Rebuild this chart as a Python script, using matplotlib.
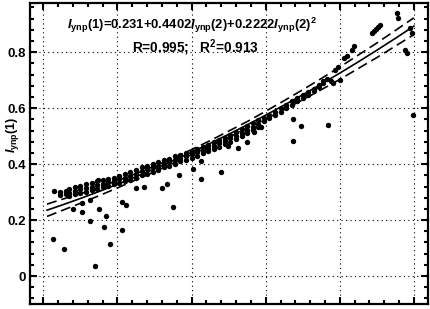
import numpy as np
import matplotlib
matplotlib.use('Agg')
import matplotlib.pyplot as plt
from matplotlib.ticker import MultipleLocator, NullFormatter

plt.rcParams['font.family'] = ['Liberation Sans', 'DejaVu Sans']
plt.rcParams['mathtext.fontset'] = 'custom'
plt.rcParams['mathtext.rm'] = 'Liberation Sans:bold'
plt.rcParams['mathtext.bf'] = 'Liberation Sans:bold'
plt.rcParams['mathtext.it'] = 'Liberation Sans:italic:bold'

# scattered outliers
out_x = [0.025, 0.056, 0.140, 0.181, 0.163, 0.125, 0.170, 0.149, 0.103, 0.079,
         0.212, 0.223, 0.211, 0.029, 0.126, 0.105, 0.250, 0.271, 0.320, 0.333,
         0.366, 0.350, 0.404, 0.425, 0.425, 0.479, 0.498, 0.525, 0.549, 0.568,
         0.587, 0.673, 0.695, 0.768, 0.673, 0.997, 0.954, 0.957, 0.976, 0.981,
         0.995, 0.989, 0.887, 0.892, 0.898, 0.903, 0.908, 0.787, 0.795, 0.811,
         0.819, 0.833, 0.838, 0.800, 0.148]
out_y = [0.131, 0.095, 0.035, 0.115, 0.176, 0.198, 0.213, 0.239, 0.229, 0.238,
         0.263, 0.255, 0.163, 0.305, 0.273, 0.260, 0.314, 0.317, 0.314, 0.329,
         0.361, 0.246, 0.382, 0.346, 0.411, 0.371, 0.464, 0.457, 0.479, 0.514,
         0.532, 0.561, 0.536, 0.539, 0.482, 0.575, 0.939, 0.921, 0.807, 0.796,
         0.868, 0.886, 0.868, 0.875, 0.882, 0.889, 0.896, 0.736, 0.746, 0.779,
         0.786, 0.807, 0.821, 0.700, 0.343]

# dense band of points along the curve
band_x = [0.045, 0.045, 0.060, 0.060, 0.070, 0.070, 0.070, 0.085, 0.085, 0.085,
          0.100, 0.100, 0.100, 0.115, 0.115, 0.115, 0.130, 0.130, 0.130,
          0.145, 0.145, 0.145, 0.160, 0.160, 0.160, 0.175, 0.175, 0.175,
          0.190, 0.190, 0.190, 0.205, 0.205, 0.205, 0.220, 0.220, 0.220,
          0.235, 0.235, 0.235, 0.250, 0.250, 0.250, 0.265, 0.265, 0.265,
          0.280, 0.280, 0.280, 0.295, 0.295, 0.295, 0.310, 0.310, 0.310,
          0.325, 0.325, 0.325, 0.340, 0.340, 0.340, 0.355, 0.355, 0.355,
          0.370, 0.370, 0.370, 0.385, 0.385, 0.385, 0.400, 0.400, 0.400,
          0.415, 0.415, 0.415, 0.430, 0.430, 0.430, 0.445, 0.445, 0.445,
          0.460, 0.460, 0.460, 0.475, 0.475, 0.475, 0.490, 0.490, 0.490,
          0.505, 0.505, 0.505, 0.520, 0.520, 0.520, 0.535, 0.535, 0.535,
          0.550, 0.550, 0.550, 0.565, 0.565, 0.565, 0.580, 0.580, 0.580,
          0.595, 0.595, 0.610, 0.610, 0.625, 0.625, 0.640, 0.640,
          0.655, 0.655, 0.670, 0.670, 0.685, 0.685, 0.700, 0.700,
          0.715, 0.715, 0.730, 0.730, 0.745, 0.745, 0.755, 0.755,
          0.765, 0.775, 0.782]
band_y = [0.300, 0.290, 0.305, 0.292, 0.312, 0.298, 0.285, 0.318, 0.305, 0.293,
          0.322, 0.310, 0.298, 0.328, 0.315, 0.302, 0.333, 0.320, 0.308,
          0.338, 0.326, 0.312, 0.343, 0.330, 0.318, 0.348, 0.335, 0.322,
          0.352, 0.340, 0.328, 0.357, 0.346, 0.334, 0.364, 0.352, 0.340,
          0.372, 0.358, 0.345, 0.380, 0.366, 0.352, 0.388, 0.374, 0.360,
          0.395, 0.382, 0.366, 0.402, 0.388, 0.372, 0.408, 0.395, 0.380,
          0.414, 0.402, 0.388, 0.420, 0.408, 0.395, 0.428, 0.415, 0.402,
          0.434, 0.422, 0.410, 0.440, 0.428, 0.416, 0.447, 0.435, 0.423,
          0.455, 0.443, 0.430, 0.463, 0.450, 0.438, 0.470, 0.458, 0.446,
          0.478, 0.466, 0.454, 0.486, 0.474, 0.462, 0.495, 0.483, 0.471,
          0.503, 0.492, 0.480, 0.514, 0.502, 0.490, 0.525, 0.512, 0.500,
          0.536, 0.522, 0.510, 0.546, 0.533, 0.522, 0.557, 0.545, 0.534,
          0.566, 0.555, 0.576, 0.565, 0.588, 0.576, 0.600, 0.588,
          0.612, 0.600, 0.624, 0.612, 0.636, 0.625, 0.648, 0.637,
          0.658, 0.648, 0.668, 0.660, 0.684, 0.676, 0.698, 0.690,
          0.706, 0.698, 0.690]

# regression curve and its confidence band
fit_x = [0.01, 0.05, 0.10, 0.15, 0.20, 0.25, 0.30, 0.35, 0.40, 0.45, 0.50,
         0.55, 0.60, 0.65, 0.70, 0.75, 0.80, 0.85, 0.90, 0.95, 1.00]
fit_y = [0.2354, 0.2536, 0.2772, 0.3020, 0.3279, 0.3549, 0.3831, 0.4123, 0.4426,
         0.4741, 0.5067, 0.5403, 0.5751, 0.6110, 0.6480, 0.6861, 0.7254, 0.7657,
         0.8072, 0.8497, 0.8934]
upper_y = [0.257, 0.274, 0.294, 0.317, 0.341, 0.366, 0.393, 0.421, 0.452, 0.484,
           0.518, 0.552, 0.589, 0.627, 0.666, 0.706, 0.747, 0.790, 0.833, 0.878,
           0.923]
lower_y = [0.213, 0.234, 0.260, 0.287, 0.315, 0.344, 0.373, 0.403, 0.434, 0.464,
           0.496, 0.528, 0.561, 0.595, 0.630, 0.666, 0.703, 0.742, 0.781, 0.822,
           0.863]

fig = plt.figure(figsize=(4.31, 3.09), dpi=100)
ax = fig.add_axes([30 / 431, 1 - 304 / 309, 398 / 431, 301 / 309])

ax.scatter(band_x, band_y, s=15, c='black', linewidths=0, zorder=3)
ax.scatter(out_x, out_y, s=15, c='black', linewidths=0, zorder=3)
ax.plot(fit_x, fit_y, color='black', lw=1.2, zorder=4)
ax.plot(fit_x, upper_y, color='black', lw=1.2, ls=(0, (6, 3)), zorder=4)
ax.plot(fit_x, lower_y, color='black', lw=1.2, ls=(0, (6, 3)), zorder=4)

ax.set_xlim(-0.036, 1.038)
ax.set_ylim(-0.1, 0.976)
ax.xaxis.set_major_locator(MultipleLocator(0.2))
ax.xaxis.set_minor_locator(MultipleLocator(0.04))
ax.yaxis.set_major_locator(MultipleLocator(0.2))
ax.yaxis.set_minor_locator(MultipleLocator(0.04))
ax.xaxis.set_major_formatter(NullFormatter())
ax.set_yticks([0, 0.2, 0.4, 0.6, 0.8])
ax.set_yticklabels(['0', '0.2', '0.4', '0.6', '0.8'], fontweight='bold', fontsize=9.5)

ax.tick_params(which='both', direction='in', top=True, right=True, width=1.5)
ax.tick_params(which='major', length=5, pad=3)
ax.tick_params(which='minor', length=3)
for s in ax.spines.values():
    s.set_linewidth(1.6)

ax.grid(True, which='major', color='black', lw=0.8, ls=(0, (1, 3)))
ax.set_axisbelow(True)

ax.set_ylabel(r'$\mathit{I}_{\mathrm{ynp}}$(1)', fontsize=9, fontweight='bold')
ax.yaxis.set_label_coords(-0.022, 0.56)

ax.text(0.094, 0.925,
        r'$\mathit{I}_{\mathrm{ynp}}$(1)=0.231+0.4402$\mathit{I}_{\mathrm{ynp}}$(2)+0.2222$\mathit{I}_{\mathrm{ynp}}$(2)$^{2}$',
        transform=ax.transAxes, fontsize=9.4, fontweight='bold', va='center', ha='left')
ax.text(0.256, 0.853, r'R=0.995;   R$^{2}$=0.913',
        transform=ax.transAxes, fontsize=9.8, fontweight='bold', va='center', ha='left')

fig.savefig('out.png', dpi=100)
